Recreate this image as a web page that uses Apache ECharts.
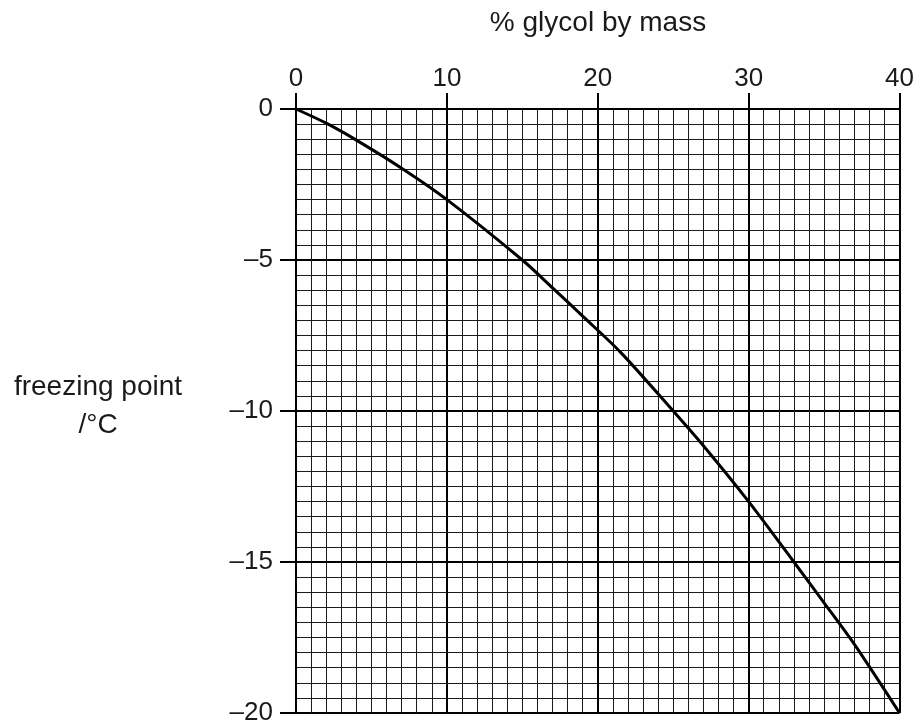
<!DOCTYPE html>
<html>
<head>
<meta charset="utf-8">
<style>
  html, body { margin: 0; padding: 0; background: #fff; }
  #chart { width: 917px; height: 727px; }
</style>
<script src="https://cdn.jsdelivr.net/npm/echarts@6/dist/echarts.min.js"></script>
</head>
<body>
<div id="chart"></div>
<script>
// glycol % by mass vs freezing point
const glycolPct = [0, 2, 4, 7, 10, 15, 17, 19, 21.5, 25, 27, 30, 33, 35, 37, 40];
const freezePt  = [0, -0.47, -1.03, -1.96, -3.0, -5.0, -5.92, -6.86, -8.05, -10.0, -11.15, -13.0, -15.0, -16.35, -17.72, -20.0];

const xTicks = [0, 10, 20, 30, 40];
const yTicks = [0, -5, -10, -15, -20];

const xName = "% glycol by mass";
const yName = ["freezing point", "/°C"];

const FONT = "'Liberation Sans', Arial, sans-serif";

function dash(v) {
  return String(v).replace("-", "\u2013");
}

const chart = echarts.init(document.getElementById("chart"), null, { renderer: "canvas" });

chart.setOption({
  animation: false,
  backgroundColor: "#fff",
  grid: { left: 296, top: 109, right: 17, bottom: 14, containLabel: false },
  xAxis: {
    type: "value",
    position: "top",
    min: xTicks[0],
    max: xTicks[xTicks.length - 1],
    interval: xTicks[1] - xTicks[0],
    axisLine: { show: true, onZero: false, lineStyle: { color: "#000", width: 2 } },
    axisTick: { show: true, inside: false, length: 16, lineStyle: { color: "#000", width: 2 } },
    axisLabel: { color: "#1a1a1a", fontSize: 26, fontFamily: FONT, margin: 17 },
    splitLine: { show: true, lineStyle: { color: "#000", width: 2 } },
    minorTick: { show: false, splitNumber: 10 },
    minorSplitLine: { show: true, lineStyle: { color: "#1a1a1a", width: 1 } }
  },
  yAxis: {
    type: "value",
    min: yTicks[yTicks.length - 1],
    max: yTicks[0],
    interval: yTicks[0] - yTicks[1],
    axisLine: { show: true, onZero: false, lineStyle: { color: "#000", width: 2 } },
    axisTick: { show: true, inside: false, length: 16, lineStyle: { color: "#000", width: 2 } },
    axisLabel: { color: "#1a1a1a", fontSize: 26, fontFamily: FONT, margin: 23, formatter: dash },
    splitLine: { show: true, lineStyle: { color: "#000", width: 2 } },
    minorTick: { show: false, splitNumber: 10 },
    minorSplitLine: { show: true, lineStyle: { color: "#1a1a1a", width: 1 } }
  },
  graphic: [
    {
      type: "text",
      x: 598,
      y: 23,
      style: {
        text: xName,
        font: "28px " + FONT,
        fill: "#1a1a1a",
        textAlign: "center",
        textVerticalAlign: "middle"
      }
    },
    {
      type: "text",
      x: 98,
      y: 406,
      style: {
        text: yName.join("\n"),
        font: "28px " + FONT,
        fill: "#1a1a1a",
        lineHeight: 38,
        textAlign: "center",
        textVerticalAlign: "middle"
      }
    }
  ],
  series: [
    {
      type: "line",
      data: glycolPct.map((x, i) => [x, freezePt[i]]),
      smooth: 0.3,
      symbol: "none",
      lineStyle: { color: "#000", width: 3 },
      z: 5
    }
  ]
});
</script>
</body>
</html>
